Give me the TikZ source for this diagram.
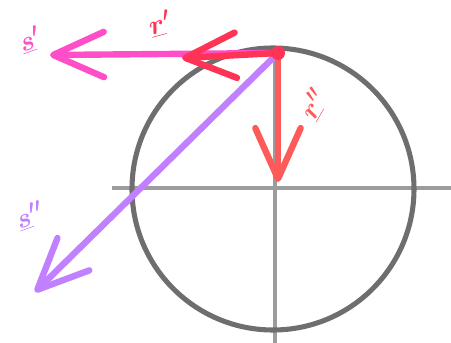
\documentclass[tikz,border=0pt]{standalone}
\usetikzlibrary{arrows.meta}
\definecolor{circgray}{HTML}{6E6E6E}
\definecolor{axgray}{HTML}{9C9C9C}
\definecolor{rone}{HTML}{FF3355}
\definecolor{rtwo}{HTML}{FF5A5A}
\definecolor{sone}{HTML}{FF4FC8}
\definecolor{stwo}{HTML}{C080FF}
\begin{document}
\begin{tikzpicture}[x=0.75pt,y=-0.75pt,
  vec/.style={line width=4.8pt,line cap=round,
    -{Straight Barb[length=38pt,width=34pt,line cap=round,round]}},
  lbl/.style={font=\fontsize{22}{22}\selectfont\boldmath,inner sep=0pt}]
\useasboundingbox (0,0) rectangle (451,343);
\coordinate (O) at (273,189);
\coordinate (P) at (278,53);
\coordinate (L) at (112,188);
\coordinate (R) at (451,188);
\coordinate (B) at (275,343);
\coordinate (T) at (275,56);
% axes
\draw[axgray,line width=3.6pt] (L) -- (R);
\draw[axgray,line width=3.6pt] (T) -- (B);
% circle
\draw[circgray,line width=3.8pt] (O) circle[radius=141];
% vectors
\coordinate (stip) at (35,292);
\coordinate (sptip) at (50,55);
\coordinate (rptip) at (182,58);
\coordinate (rpptip) at (278,182);
\draw[vec,stwo] (P) -- (stip);
\draw[vec,sone] (P) -- (sptip);
\draw[vec,rone] (P) -- (rptip);
\draw[vec,rtwo] (P) -- (rpptip);
\fill[rone] (P) circle[radius=7];
% labels
\node[lbl,text=sone,rotate=20] (ls1) at (30,40) {$\underline{s}'$};
\node[lbl,text=rone,rotate=15] (lr1) at (160,24) {$\underline{r}'$};
\node[lbl,text=rtwo,rotate=60] (lr2) at (314,104) {$\underline{r}''$};
\node[lbl,text=stwo,rotate=20] (ls2) at (30,216) {$\underline{s}''$};
\end{tikzpicture}
\end{document}
